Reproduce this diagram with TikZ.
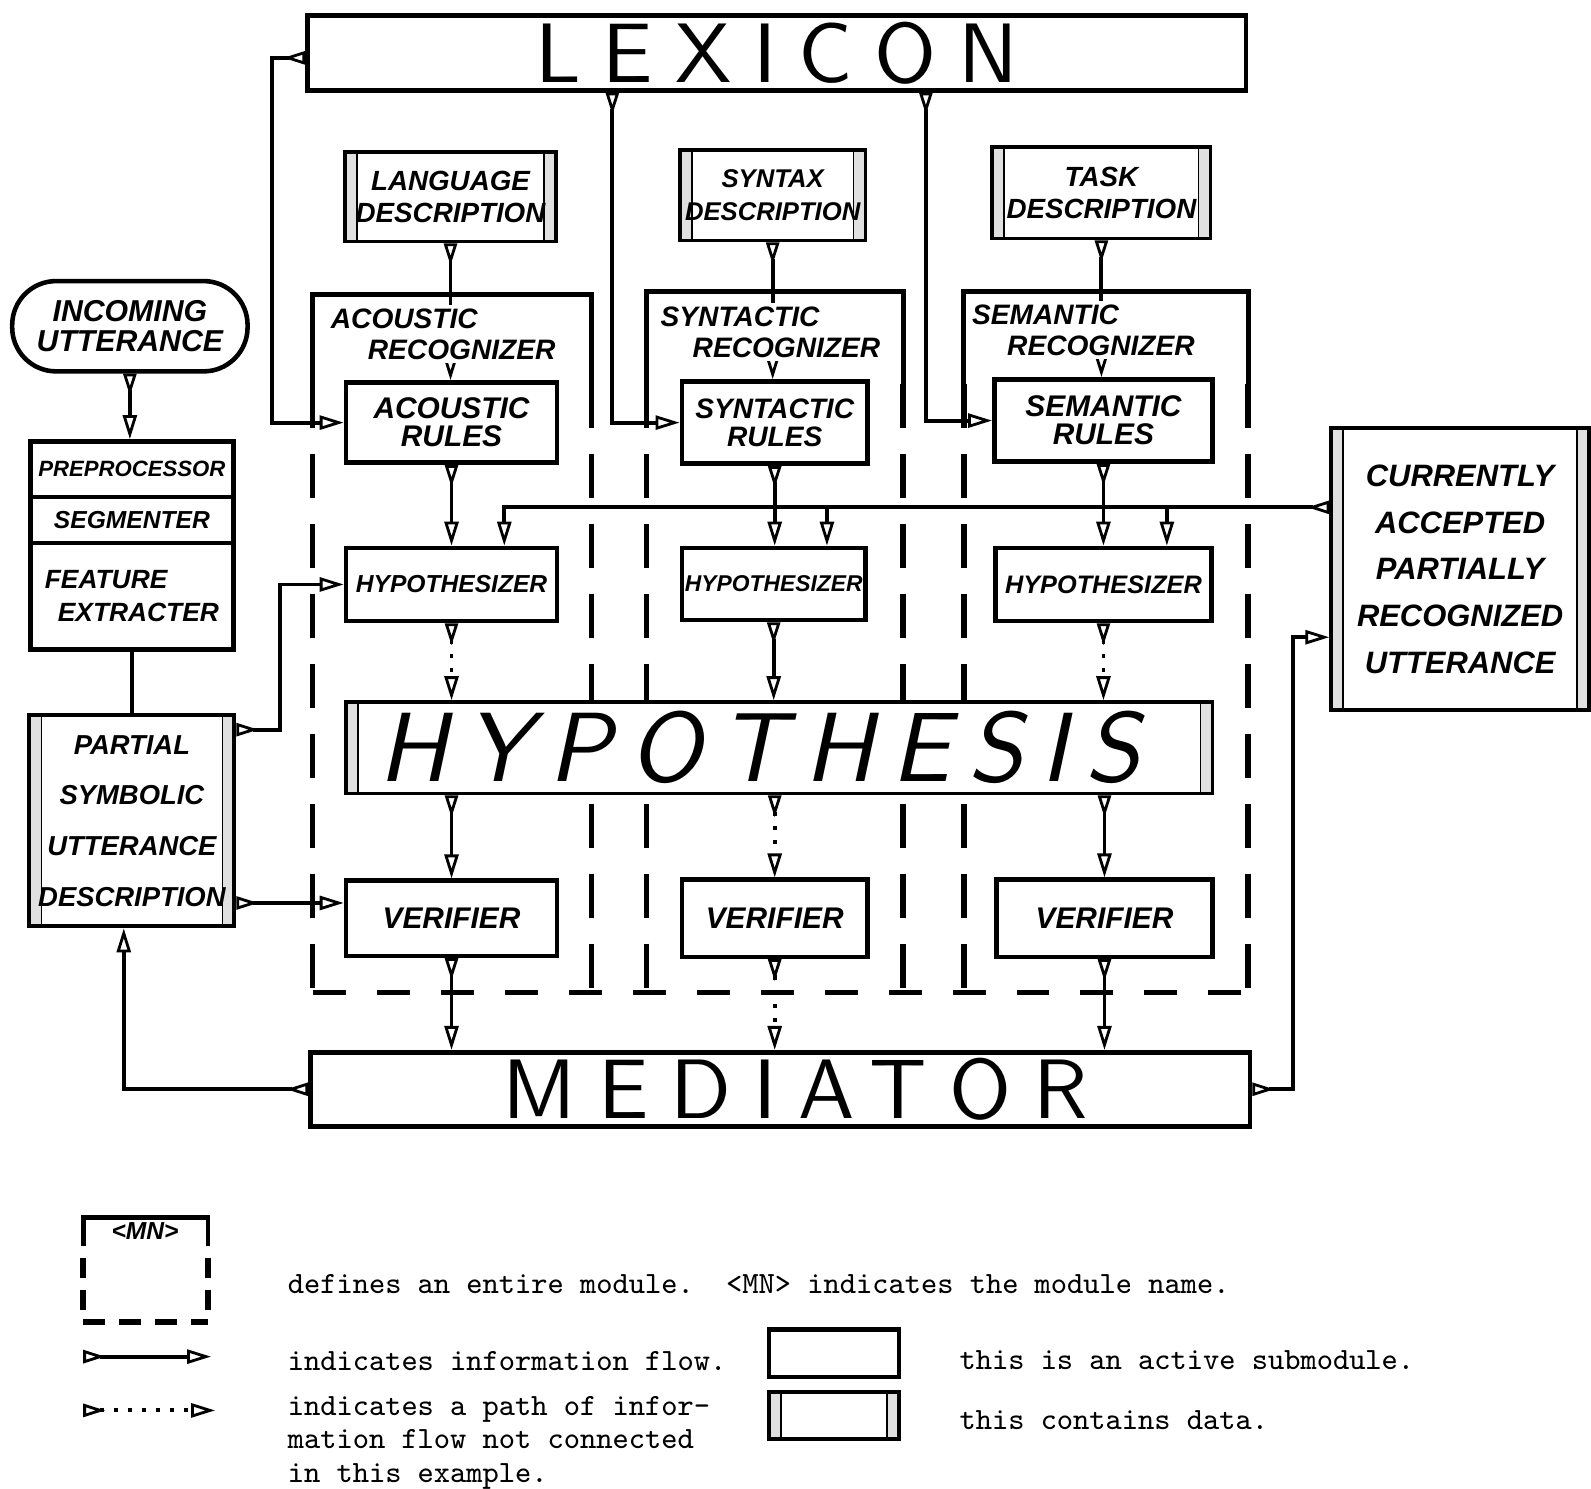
\documentclass[tikz,border=0pt]{standalone}
\usepackage{fontspec}
\usepackage{tikz}
\usetikzlibrary{arrows.meta, calc}
\newfontfamily\handfont{Liberation Sans}
\newfontfamily\titlefont{lmsans10-regular.otf}[LetterSpace=26]
\newfontfamily\hypfont{lmsans10-oblique.otf}[LetterSpace=18]
\newlength\pxu
\setlength\pxu{0.10147mm}
\newcommand\hwf[2]{\fontsize{#1}{#2}\selectfont\handfont\bfseries\itshape}

\begin{document}
\begin{tikzpicture}[x=0.10147mm, y=-0.10147mm,
  box/.style={draw, fill=white, line width=1.3pt, inner sep=0pt, align=center},
  databox/.style={box, line width=1.1pt, path picture={
    \fill[black!12] (path picture bounding box.north west) rectangle ([xshift=1.2mm]path picture bounding box.south west);
    \fill[black!12] (path picture bounding box.north east) rectangle ([xshift=-1.2mm]path picture bounding box.south east);
    \draw[line width=0.5pt] ([xshift=1.2mm]path picture bounding box.north west) -- ([xshift=1.2mm]path picture bounding box.south west);
    \draw[line width=0.5pt] ([xshift=-1.2mm]path picture bounding box.north east) -- ([xshift=-1.2mm]path picture bounding box.south east);}},
  modlabel/.style={fill=white, inner sep=1pt, align=left, font=\hwf{8}{8.8}},
  note/.style={inner sep=0pt, font=\fontsize{8.8}{9.4}\selectfont\ttfamily},
  modtop/.style={line width=1.4pt},
  modside/.style={line width=1.6pt, dash pattern=on 4.4mm off 2.6mm},
  modfloor/.style={line width=1.6pt, dash pattern=on 3.3mm off 3.1mm},
  flow/.style={line width=1.1pt, {Triangle[open,reversed,length=2.2mm,width=1.3mm,line width=0.8pt]}-{Triangle[open,length=2.4mm,width=1.4mm,line width=0.8pt]}},
  feed/.style={line width=1.1pt, -{Triangle[open,length=2.4mm,width=1.4mm,line width=0.8pt]}},
  unlinked/.style={flow, dash pattern=on 1.2pt off 2.8pt}
]
\useasboundingbox (0,0) rectangle (1568,1467);

% module frames
\draw[modtop] (308,378) |- (583,290) -- (583,378);
\draw[modtop] (637,378) |- (890,287) -- (890,378);
\draw[modtop] (950,378) |- (1230,287) -- (1230,378);
\draw[modside] (308,378) -- (308,978) (583,378) -- (583,978)
  (637,378) -- (637,978) (890,378) -- (890,978)
  (950,378) -- (950,978) (1230,378) -- (1230,978);
\draw[modfloor] (308,978) -- (1232,978);

% data and submodules
\node[box, minimum width=925\pxu, minimum height=74\pxu, font=\fontsize{24}{26}\titlefont] (lex) at (765.5,52) {LEXICON};
\node[databox, minimum width=208\pxu, minimum height=88\pxu, font=\hwf{7.9}{9.2}] (lang) at (444,194) {LANGUAGE\\DESCRIPTION};
\node[databox, minimum width=183\pxu, minimum height=89\pxu, font=\hwf{7.3}{9.2}] (syntaxd) at (761.5,192.5) {SYNTAX\\DESCRIPTION};
\node[databox, minimum width=215\pxu, minimum height=90\pxu, font=\hwf{7.9}{9.2}] (task) at (1085.5,190) {TASK\\DESCRIPTION};

\node[box, minimum width=208\pxu, minimum height=79\pxu, font=\hwf{8.5}{8}] (arules) at (445,416.5) {ACOUSTIC\\RULES};
\node[box, minimum width=183\pxu, minimum height=81\pxu, font=\hwf{8}{8}] (srules) at (763.5,416.5) {SYNTACTIC\\RULES};
\node[box, minimum width=215\pxu, minimum height=81\pxu, font=\hwf{8.5}{8}] (mrules) at (1087.5,414.5) {SEMANTIC\\RULES};

\node[box, minimum width=208\pxu, minimum height=72\pxu, font=\hwf{7}{7}] (ahyp) at (445,576) {HYPOTHESIZER};
\node[box, minimum width=181\pxu, minimum height=71\pxu, font=\hwf{6.5}{7}] (shyp) at (762.5,575.5) {HYPOTHESIZER};
\node[box, minimum width=213\pxu, minimum height=72\pxu, font=\hwf{7.2}{7}] (mhyp) at (1087.5,576) {HYPOTHESIZER};

\node[databox, minimum width=854\pxu, minimum height=90\pxu, font=\fontsize{28}{30}\hypfont] (hyp) at (768,737) {\hspace*{-4mm}HYPOTHESIS};

\node[box, minimum width=208\pxu, minimum height=74\pxu, font=\hwf{8.5}{8}] (aver) at (445,905) {VERIFIER};
\node[box, minimum width=183\pxu, minimum height=76\pxu, font=\hwf{8.5}{8}] (sver) at (763.5,905) {VERIFIER};
\node[box, minimum width=213\pxu, minimum height=76\pxu, font=\hwf{8.5}{8}] (mver) at (1088.5,905) {VERIFIER};

\node[box, minimum width=926\pxu, minimum height=73\pxu, font=\fontsize{24}{26}\titlefont] (med) at (769,1073.5) {\hspace*{3mm}MEDIATOR};

\node[box, rounded corners=4.4mm, minimum width=232\pxu, minimum height=89\pxu, font=\hwf{8.6}{8.6}] (inc) at (128,321.5) {INCOMING\\UTTERANCE};
\node[box, minimum width=200\pxu, minimum height=55\pxu, font=\hwf{6.3}{7}] (prep) at (130,462.5) {PREPROCESSOR};
\node[box, minimum width=200\pxu, minimum height=45\pxu, font=\hwf{7}{7}] (seg) at (130,512.5) {SEGMENTER};
\node[box, minimum width=200\pxu, minimum height=105\pxu, font=\hwf{7.5}{9.5}, align=left] (feat) at (130,587.5) {FEATURE\\\hspace*{1.3mm}EXTRACTER};
\node[databox, minimum width=202\pxu, minimum height=208\pxu, font=\hwf{7.8}{14.4}] (psud) at (130,809) {PARTIAL\\SYMBOLIC\\UTTERANCE\\DESCRIPTION};
\node[databox, minimum width=254\pxu, minimum height=278\pxu, font=\hwf{8.8}{13.3}] (capru) at (1439,561) {CURRENTLY\\ACCEPTED\\PARTIALLY\\RECOGNIZED\\UTTERANCE};

% information flow
\draw[flow] ($(lex.west)+(0,5)$) -- ++(-33,0) |- (arules.west);
\draw[flow] ($(lex.south)+(-162,0)$) |- (srules.west);
\draw[flow] ($(lex.south)+(147,0)$) |- (mrules.west);
\draw[flow] (lang.south) -- (lang.south |- arules.north);
\draw[flow] (syntaxd.south) -- (syntaxd.south |- srules.north);
\draw[flow] (task.south) -- (task.south |- mrules.north);

\draw[flow] (arules.south) -- (ahyp.north);
\draw[flow] (srules.south) -- (srules.south |- shyp.north);
\draw[flow] (mrules.south) -- (mhyp.north);
\draw[unlinked] (ahyp.south) -- (ahyp.south |- hyp.north);
\draw[flow] (shyp.south) -- (shyp.south |- hyp.north);
\draw[unlinked] (mhyp.south) -- (mhyp.south |- hyp.north);
\draw[flow] (aver.north |- hyp.south) -- (aver.north);
\draw[unlinked] (sver.north |- hyp.south) -- (sver.north);
\draw[flow] (mver.north |- hyp.south) -- (mver.north);
\draw[flow] (aver.south) -- (aver.south |- med.north);
\draw[unlinked] (sver.south) -- (sver.south |- med.north);
\draw[flow] (mver.south) -- (mver.south |- med.north);

\coordinate (busA) at (497,500);
\coordinate (busB) at (815,500);
\coordinate (busC) at (1150,500);
\draw[flow] (capru.west |- busA) -| (busA |- ahyp.north);
\draw[feed] (busB) -- (busB |- shyp.north);
\draw[feed] (busC) -- (busC |- mhyp.north);

\draw[flow] (inc.south) -- (inc.south |- prep.north);
\draw[line width=1.1pt] (feat.south) -- (feat.south |- psud.north);
\draw[flow] ($(psud.north east)+(0,16)$) -- ++(43,0) |- (ahyp.west);
\draw[flow] ($(psud.south east)+(0,-25)$) coordinate (pv) -- (pv -| aver.west);
\draw[flow] (med.west) -| ($(psud.south)+(-8,0)$);
\draw[flow] (med.east) -- ++(40,0) |- ($(capru.west)+(0,67)$);

% module names
\node[modlabel, anchor=north west] (alab) at (322,300) {ACOUSTIC\\\hspace*{3.7mm}RECOGNIZER};
\node[modlabel, anchor=north west] (slab) at (647,298) {SYNTACTIC\\\hspace*{3.2mm}RECOGNIZER};
\node[modlabel, anchor=north west] (mlab) at (954,296) {SEMANTIC\\\hspace*{3.5mm}RECOGNIZER};

% legend
\draw[modtop] (82,1228) |- (205,1200) -- (205,1228);
\draw[modside, dash pattern=on 2mm off 1.2mm] (82,1240) -- (82,1303) (205,1240) -- (205,1303);
\draw[modfloor, dash pattern=on 2.2mm off 1.4mm] (82,1303) -- (205,1303);
\node[font=\hwf{7}{7}] (mn) at (143,1213) {<MN>};
\node[note, anchor=west] (modtext) at (283,1265) {defines an entire module.~~<MN> indicates the module name.};

\coordinate (fl1) at (82,1337);
\coordinate (fl2) at (208,1337);
\draw[flow] (fl1) -- (fl2);
\node[note, anchor=west] (flowtext) at (283,1341) {indicates information flow.};

\coordinate (nl1) at (82,1390);
\coordinate (nl2) at (212,1390);
\draw[unlinked] (nl1) -- (nl2);
\node[note, anchor=north west, align=left] (nltext) at (283,1376) {indicates a path of infor-\\mation flow not connected\\in this example.};

\node[box, minimum width=128\pxu, minimum height=47\pxu] (actkey) at (822,1333.5) {};
\node[note, anchor=west] (acttext) at (945,1340) {this is an active submodule.};
\node[databox, minimum width=128\pxu, minimum height=46\pxu] (datakey) at (822,1395) {};
\node[note, anchor=west] (datatext) at (945,1400) {this contains data.};
\end{tikzpicture}
\end{document}
